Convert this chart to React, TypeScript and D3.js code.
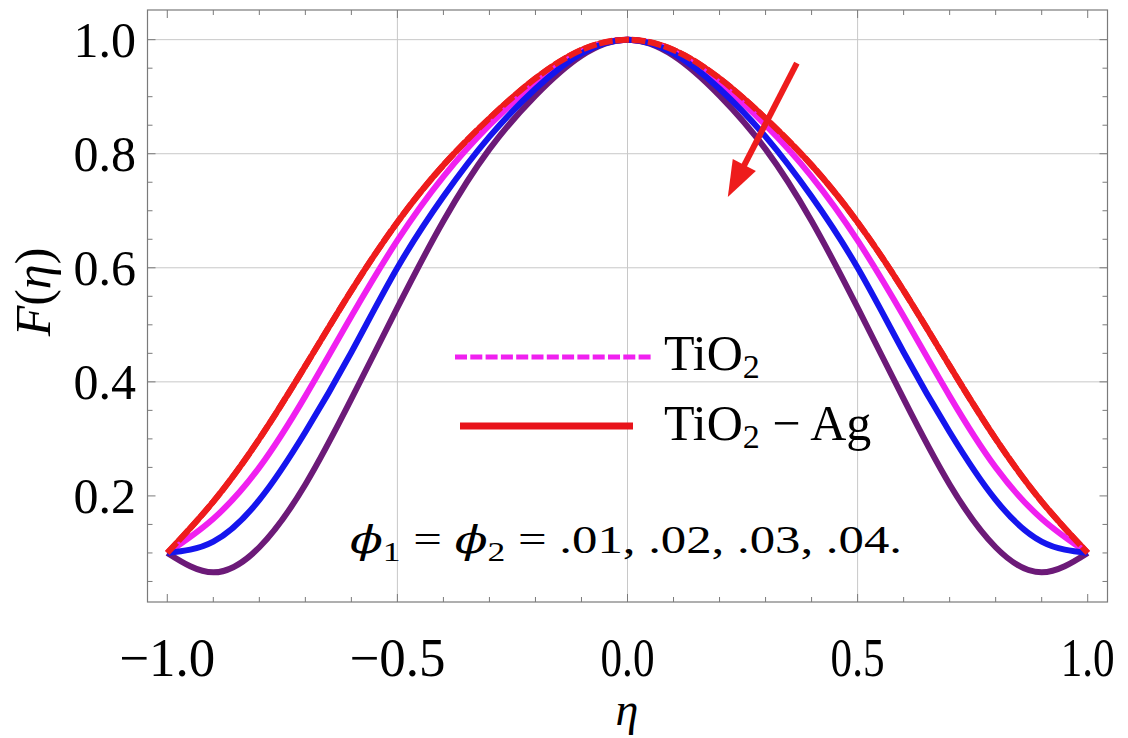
import React from "react";
import * as d3 from "d3";

const eta = [-1, -0.9, -0.8, -0.7, -0.6, -0.5, -0.4, -0.3, -0.2, -0.1, 0, 0.1, 0.2, 0.3, 0.4, 0.5, 0.6, 0.7, 0.8, 0.9, 1];
const redVals = [0.1, 0.19, 0.30, 0.428, 0.56, 0.68, 0.78, 0.862, 0.932, 0.982, 1.0, 0.982, 0.932, 0.862, 0.78, 0.68, 0.56, 0.428, 0.30, 0.19, 0.1];
const magentaVals = [0.1, 0.16, 0.25, 0.375, 0.515, 0.648, 0.76, 0.85, 0.924, 0.979, 1.0, 0.979, 0.924, 0.85, 0.76, 0.648, 0.515, 0.375, 0.25, 0.16, 0.1];
const blueVals = [0.1, 0.12, 0.193, 0.312, 0.452, 0.6, 0.725, 0.83, 0.914, 0.976, 1.0, 0.976, 0.914, 0.83, 0.725, 0.6, 0.452, 0.312, 0.193, 0.12, 0.1];
const purpleVals = [0.1, 0.066, 0.11, 0.22, 0.37, 0.53, 0.682, 0.808, 0.902, 0.972, 1.0, 0.972, 0.902, 0.808, 0.682, 0.53, 0.37, 0.22, 0.11, 0.066, 0.1];

const xMajor = [-1, -0.5, 0, 0.5, 1];
const xMajorLabels = ["\u22121.0", "\u22120.5", "0.0", "0.5", "1.0"];
const xMinor = [-0.9, -0.8, -0.7, -0.6, -0.4, -0.3, -0.2, -0.1, 0.1, 0.2, 0.3, 0.4, 0.6, 0.7, 0.8, 0.9];
const yMajor = [0.2, 0.4, 0.6, 0.8, 1.0];
const yMajorLabels = ["0.2", "0.4", "0.6", "0.8", "1.0"];
const yMinor = [0.05, 0.1, 0.15, 0.25, 0.3, 0.35, 0.45, 0.5, 0.55, 0.65, 0.7, 0.75, 0.85, 0.9, 0.95];
const xGrid = [-0.5, 0, 0.5];
const yGrid = [0.4, 0.6, 0.8, 1.0];

const arrowFrom = [0.368, 0.959];
const arrowTo = [0.218, 0.724];

const W = 1128, H = 738;
const L = 147.5, R = 1107.5, T = 10, B = 602;
const FONT = "'Liberation Serif', 'Times New Roman', serif";
const PHI_FONT = "'DejaVu Serif', serif";

export default function App() {
  const x = d3.scaleLinear().domain([-1.043, 1.043]).range([L, R]);
  const y = d3.scaleLinear().domain([0.014, 1.052]).range([B, T]);
  const line = d3
    .line<number>()
    .x((_, i) => x(eta[i]))
    .y((v) => y(v))
    .curve(d3.curveNatural);

  const gridColor = "#c8c8c8";
  const frameColor = "#7a7a7a";
  const cRed = "#ee1c1c";
  const cMag = "#f020f0";
  const cBlue = "#1515ee";
  const cPurple = "#6c1a78";
  const sw = 6;

  const ax0 = x(arrowFrom[0]), ay0 = y(arrowFrom[1]);
  const ax1 = x(arrowTo[0]), ay1 = y(arrowTo[1]);
  const dx = ax1 - ax0, dy = ay1 - ay0;
  const len = Math.hypot(dx, dy);
  const ux = dx / len, uy = dy / len;
  const headLen = 36, headHalf = 13;
  const bx = ax1 - ux * headLen, by = ay1 - uy * headLen;
  const px = -uy, py = ux;

  return (
    <svg width={W} height={H} style={{ position: "absolute", left: 0, top: 0, background: "#fff" }}>
      <rect x={0} y={0} width={W} height={H} fill="#fff" />
      {xGrid.map((v) => (
        <line key={"gx" + v} x1={x(v)} x2={x(v)} y1={T} y2={B} stroke={gridColor} strokeWidth={1} />
      ))}
      {yGrid.map((v) => (
        <line key={"gy" + v} x1={L} x2={R} y1={y(v)} y2={y(v)} stroke={gridColor} strokeWidth={1} />
      ))}
      <rect x={L} y={T} width={R - L} height={B - T} fill="none" stroke={frameColor} strokeWidth={1.2} />
      {xMajor.map((v) => (
        <g key={"xt" + v}>
          <line x1={x(v)} x2={x(v)} y1={B} y2={B - 8} stroke={frameColor} />
          <line x1={x(v)} x2={x(v)} y1={T} y2={T + 8} stroke={frameColor} />
        </g>
      ))}
      {xMinor.map((v) => (
        <g key={"xm" + v}>
          <line x1={x(v)} x2={x(v)} y1={B} y2={B - 5} stroke={frameColor} />
          <line x1={x(v)} x2={x(v)} y1={T} y2={T + 5} stroke={frameColor} />
        </g>
      ))}
      {yMajor.map((v) => (
        <g key={"yt" + v}>
          <line x1={L} x2={L + 8} y1={y(v)} y2={y(v)} stroke={frameColor} />
          <line x1={R} x2={R - 8} y1={y(v)} y2={y(v)} stroke={frameColor} />
        </g>
      ))}
      {yMinor.map((v) => (
        <g key={"ym" + v}>
          <line x1={L} x2={L + 5} y1={y(v)} y2={y(v)} stroke={frameColor} />
          <line x1={R} x2={R - 5} y1={y(v)} y2={y(v)} stroke={frameColor} />
        </g>
      ))}
      {xMajor.map((v, i) => (
        <text
          key={"xl" + v}
          x={x(v)}
          y={676}
          textAnchor="middle"
          fontFamily={FONT}
          fontSize={54}
          textLength={xMajorLabels[i].length === 4 ? 96 : 54}
          lengthAdjust="spacingAndGlyphs"
        >
          {xMajorLabels[i]}
        </text>
      ))}
      {yMajor.map((v, i) => (
        <text key={"yl" + v} x={136} y={y(v) + 17} textAnchor="end" fontFamily={FONT} fontSize={50}>
          {yMajorLabels[i]}
        </text>
      ))}
      <text x={627} y={725} textAnchor="middle" fontFamily={FONT} fontStyle="italic" fontSize={46}>
        {"\u03b7"}
      </text>
      <text transform={`translate(50,${292}) rotate(-90)`} textAnchor="middle" fontFamily={FONT} fontSize={50}>
        <tspan fontStyle="italic">F</tspan>
        <tspan>(</tspan>
        <tspan fontStyle="italic">{"\u03b7"}</tspan>
        <tspan>)</tspan>
      </text>

      <path d={line(redVals) || ""} fill="none" stroke={cRed} strokeWidth={sw} />
      <path d={line(magentaVals) || ""} fill="none" stroke={cMag} strokeWidth={sw} />
      <path d={line(purpleVals) || ""} fill="none" stroke={cPurple} strokeWidth={sw} />
      <path d={line(blueVals) || ""} fill="none" stroke={cBlue} strokeWidth={sw} />
      <path d={line(redVals) || ""} fill="none" stroke={cRed} strokeWidth={sw} strokeDasharray="14 2.5" />

      <line x1={ax0} y1={ay0} x2={bx + ux * 2} y2={by + uy * 2} stroke={cRed} strokeWidth={6} />
      <polygon
        points={`${ax1},${ay1} ${bx + px * headHalf},${by + py * headHalf} ${bx - px * headHalf},${by - py * headHalf}`}
        fill={cRed}
      />

      <line x1={455} x2={653} y1={357} y2={357} stroke={cMag} strokeWidth={5} strokeDasharray="12 3.3" />
      <text x={664} y={370} fontFamily={FONT} fontSize={50}>
        TiO<tspan fontSize={34} dy={8}>2</tspan>
      </text>
      <line x1={460} x2={633} y1={426} y2={426} stroke="#e8141b" strokeWidth={7} />
      <text x={664} y={440} fontFamily={FONT} fontSize={50}>
        TiO<tspan fontSize={34} dy={8}>2</tspan>
        <tspan dy={-8}>{" \u2212 Ag"}</tspan>
      </text>

      <text x={350} y={553} fontFamily={FONT} fontSize={40} textLength={552} lengthAdjust="spacingAndGlyphs">
        <tspan fontStyle="italic" fontFamily={PHI_FONT} fontSize={38}>{"\u03d5"}</tspan>
        <tspan fontSize={28} dy={8}>1</tspan>
        <tspan dy={-8}>{" = "}</tspan>
        <tspan fontStyle="italic" fontFamily={PHI_FONT} fontSize={38}>{"\u03d5"}</tspan>
        <tspan fontSize={28} dy={8}>2</tspan>
        <tspan dy={-8}>{" = .01, .02, .03, .04."}</tspan>
      </text>
    </svg>
  );
}
